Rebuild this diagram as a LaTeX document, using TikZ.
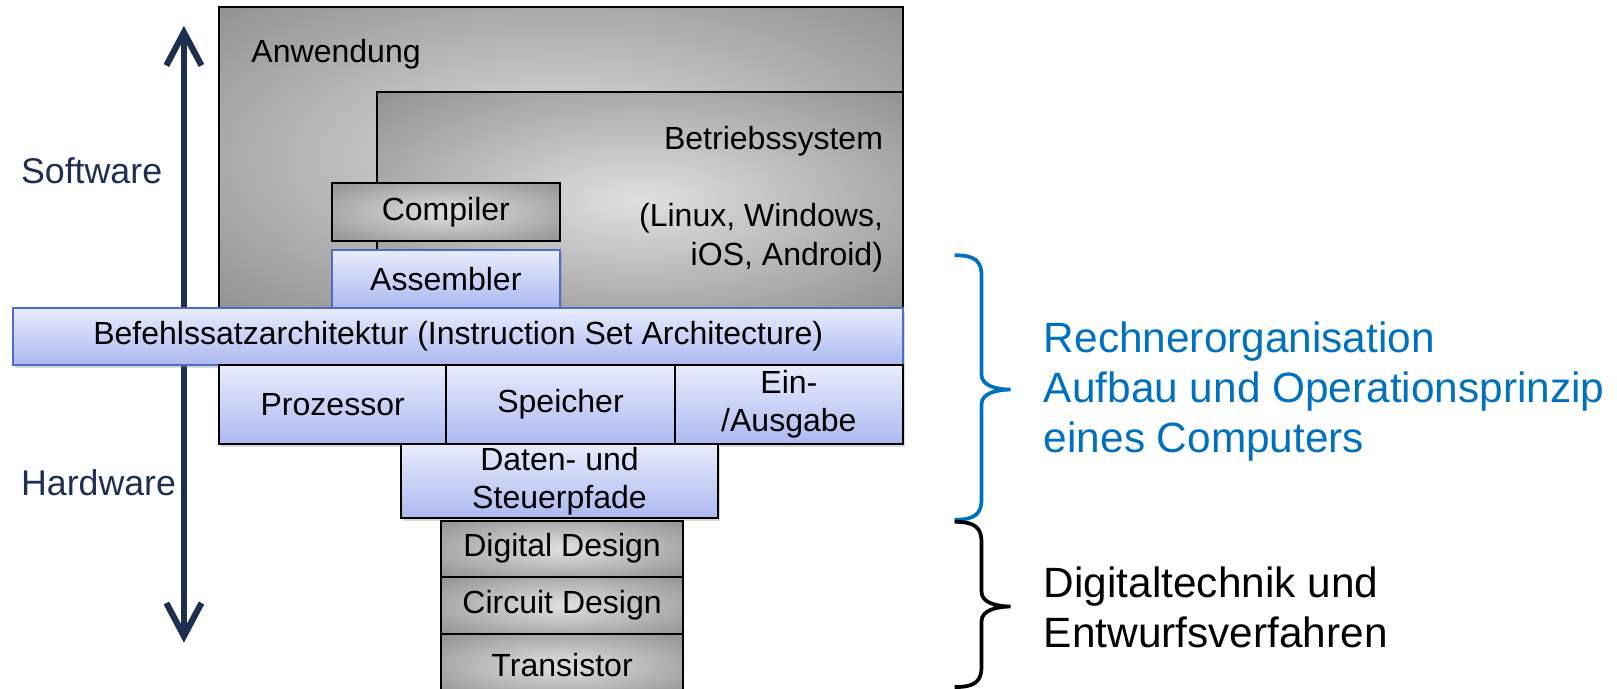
\documentclass[tikz,border=0pt]{standalone}
\usepackage{fontspec}
\setmainfont{Liberation Sans}
\usetikzlibrary{positioning,calc,arrows.meta,shadows}

\definecolor{navy}{HTML}{1F2F50}
\definecolor{roblue}{HTML}{0070C0}
\definecolor{glowin}{HTML}{E0E0E0}
\definecolor{glowout}{HTML}{727272}
\definecolor{bluetop}{HTML}{E8ECFC}
\definecolor{bluebot}{HTML}{ACB9F0}
\definecolor{blueline}{HTML}{4C6EC4}

\pgfdeclareradialshading{glow}{\pgfpoint{0bp}{0bp}}{color(0bp)=(glowin); color(50bp)=(glowout)}

% curly brace pointing right: #1 style, #2 top, #3 tip, #4 bottom
\newcommand{\curlybrace}[4]{%
  \draw[#1] (#2) .. controls +(20,0) and +(0,-14) .. ($(#2)+(26,20)$)
    -- ($(#3)+(-28,-14)$) .. controls +(0,10) and +(-14,0) .. (#3)
    .. controls +(-14,0) and +(0,-10) .. ($(#3)+(-28,14)$)
    -- ($(#4)+(26,-20)$) .. controls +(0,14) and +(20,0) .. (#4);}

\tikzset{
  layer/.style={draw=black, line width=1pt, inner sep=0pt, anchor=north west,
    font=\fontsize{15.5}{18.5}\selectfont, align=center},
  greybox/.style={layer, shading=glow},
  bluebox/.style={layer, top color=bluetop, bottom color=bluebot,
    drop shadow={shadow xshift=1pt, shadow yshift=-1.5pt, opacity=0.3}},
  boxtext/.style={inner sep=0pt, font=\fontsize{15.5}{18.5}\selectfont},
  sidetext/.style={inner sep=0pt, font=\fontsize{17.3}{20}\selectfont, text=navy, anchor=west},
  bigtext/.style={inner sep=0pt, font=\fontsize{20.5}{24}\selectfont, anchor=west, align=left}
}

\begin{document}
\begin{tikzpicture}[x=0.5pt, y=-0.5pt]
  \useasboundingbox (0,0) rectangle (1565,666);

  % Software / Hardware axis
  \coordinate (swtop) at (178,25);
  \coordinate (hwbot) at (178,622);
  \draw[navy, line width=3pt,
    {Straight Barb[length=16pt,width=17pt]}-{Straight Barb[length=16pt,width=17pt]}]
    (swtop) -- (hwbot);
  \node[sidetext] (sw) at (20,165) {Software};
  \node[sidetext] (hw) at (20,467) {Hardware};

  % software layers
  \node[greybox, minimum width=331pt, minimum height=145.5pt] (anw) at (211,6) {};
  \node[boxtext, anchor=west] (anwtxt) at ($(anw.north west)+(32,46)$) {Anwendung};
  \node[greybox, minimum width=254.5pt, minimum height=104.5pt] (bs) at (364,88) {};
  \node[boxtext, anchor=east] (bstxt) at ($(bs.north east)+(-20,49)$) {Betriebssystem};
  \node[boxtext, anchor=east, align=right] (ostxt)
    at ($(bs.north east)+(-20,142)$) {(Linux, Windows,\\iOS, Android)};
  \node[greybox, minimum width=110.5pt, minimum height=28pt] (comp) at (320,176) {Compiler};
  \node[bluebox, draw=blueline, minimum width=110.5pt, minimum height=28pt] (asm) at (320,241) {Assembler};

  % ISA
  \node[bluebox, draw=blueline, minimum width=430.5pt, minimum height=27.5pt] (isa) at (12,297)
    {Befehlssatzarchitektur (Instruction Set Architecture)};

  % hardware
  \node[bluebox, minimum width=110pt, minimum height=38.5pt] (proz) at (211,352) {Prozessor};
  \node[bluebox, minimum width=110.5pt, minimum height=38.5pt] (spei) at (431,352) {Speicher};
  \node[bluebox, minimum width=110.5pt, minimum height=38.5pt] (ea) at (652,352) {Ein-\\/Ausgabe};
  \node[bluebox, minimum width=153.5pt, minimum height=35.5pt] (dat) at (387,429) {Daten- und\\Steuerpfade};
  \node[greybox, minimum width=117pt, minimum height=27pt] (dig) at (426,503) {Digital Design};
  \node[greybox, minimum width=117pt, minimum height=28pt] (circ) at (426,557) {Circuit Design};
  \node[greybox, minimum width=117pt, minimum height=30pt] (tran) at (426,613) {Transistor};

  % braces
  \coordinate (rotop) at (924,247);
  \coordinate (rotip) at (978,377);
  \coordinate (robot) at (924,503);
  \coordinate (dttop) at (924,505);
  \coordinate (dttip) at (978,587);
  \coordinate (dtbot) at (924,665);
  \curlybrace{roblue, line width=1.8pt}{rotop}{rotip}{robot}
  \curlybrace{black, line width=1.8pt}{dttop}{dttip}{dtbot}
  \node[bigtext, text=roblue] (ro) at (1010,379)
    {Rechnerorganisation\\Aufbau und Operationsprinzip\\eines Computers};
  \node[bigtext] (dt) at (1010,588) {Digitaltechnik und\\Entwurfsverfahren};
\end{tikzpicture}
\end{document}
